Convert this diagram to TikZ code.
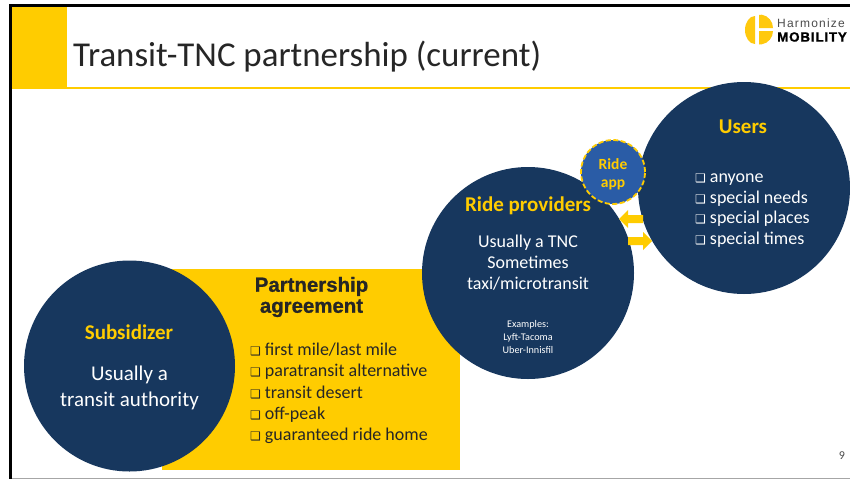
\documentclass[tikz,border=0pt]{standalone}
\usepackage{fontspec}
\setmainfont{Carlito}
\newfontfamily\symfont{DejaVu Sans}
\newfontfamily\headfont{Liberation Sans}
\definecolor{navy}{HTML}{17375E}
\definecolor{gold}{HTML}{FFCC00}
\definecolor{appblue}{HTML}{2A5CA6}
\definecolor{inkc}{HTML}{262626}
\definecolor{logoc}{HTML}{FFC90E}
\newcommand{\bx}{{\symfont\fontsize{12}{10}\selectfont ❑}\hspace{4pt}}
\tikzset{
  x=1pt,y=-1pt,
  disc/.style={circle,fill=navy,inner sep=0pt},
  head/.style={text=gold,font=\fontsize{21}{25}\selectfont\bfseries,align=center},
  body/.style={text=white,font=\fontsize{21}{26}\selectfont,align=center},
  blist/.style={font=\fontsize{18}{21.2}\selectfont,align=left},
  blockarrow/.style={fill=gold}
}
\begin{document}
\begin{tikzpicture}
\useasboundingbox (0,0) rectangle (850,479);
\fill[white] (0,0) rectangle (850,479);
% frame
\fill[black] (9,4) rectangle (850,7);
\fill[black] (9,4) rectangle (11.5,479);
\fill[black!35] (11.5,477.5) rectangle (850,479);
% header
\fill[gold] (11.5,7) rectangle (67,89);
\fill[gold] (67,86.5) rectangle (850,88.5);
\node[anchor=west,inner sep=0pt,font=\fontsize{34.9}{40}\selectfont,text=inkc] (title) at (73,56.5) {Transit-TNC partnership (current)};
% logo
\fill[logoc] (755,44) arc[start angle=90,end angle=270,x radius=10,y radius=14] -- cycle;
\fill[logoc] (759,15) -- (759,28) -- (773,28) arc[start angle=0,end angle=-80,radius=13.5] -- cycle;
\fill[logoc] (759,44.5) -- (759,31) -- (773,31) arc[start angle=0,end angle=80,radius=13.5] -- cycle;
\node[anchor=west,inner sep=0pt,text=black!70,font=\headfont\fontsize{12}{14}\selectfont\addfontfeature{LetterSpace=10}] (logotop) at (777,23) {Harmonize};
\node[anchor=west,inner sep=0pt,text=black,font=\headfont\bfseries\fontsize{13.4}{15}\selectfont\addfontfeature{LetterSpace=6,FakeBold=1}] (logobot) at (777,37) {MOBILITY};
% yellow panel
\fill[gold] (162,269) rectangle (460,470);
% circles
\node[disc,minimum size=211pt] (sub) at (129.5,366) {};
\node[disc,minimum size=212pt] (prov) at (528,273) {};
\node[disc,minimum size=212pt] (users) at (744,188) {};
% arrows
\fill[blockarrow] (619,219) -- (628,210) -- (628,215) -- (643,215) -- (643,223) -- (628,223) -- (628,228) -- cycle;
\fill[blockarrow] (652,241) -- (643,232) -- (643,237) -- (628,237) -- (628,245) -- (643,245) -- (643,250) -- cycle;
% ride app
\node[circle,fill=appblue,draw=gold,line width=1.8pt,dash pattern=on 5pt off 2.5pt,minimum size=64pt,inner sep=0pt] (app) at (613,172) {};
\node[inner sep=0pt,text=gold,align=center,font=\fontsize{15.5}{18.5}\selectfont\bfseries] (applabel) at (613,174.5) {Ride\\app};
% subsidizer
\node[head] (subhead) at (129,332) {Subsidizer};
\node[body] (subbody) at (129.5,388) {Usually a\\transit authority};
% agreement
\node[align=center,inner sep=0pt,text=inkc,font=\headfont\bfseries\fontsize{20.4}{21}\selectfont\addfontfeature{FakeBold=1}] (agr) at (311.5,297) {Partnership\\agreement};
\node[blist,anchor=north west,inner sep=0pt,text=inkc] (agrlist) at (250,343) {\bx first mile/last mile\\\bx paratransit alternative\\\bx transit desert\\\bx off-peak\\\bx guaranteed ride home};
% providers
\node[head] (provhead) at (528,205.5) {Ride providers};
\node[body,font=\fontsize{18}{21}\selectfont] (provbody) at (528,263) {Usually a TNC\\Sometimes\\taxi/microtransit};
\node[body,font=\fontsize{10.2}{13}\selectfont] (provex) at (528,336.5) {Examples:\\Lyft-Tacoma\\Uber-Innisfil};
% users
\node[head] (userhead) at (743,127) {Users};
\node[blist,font=\fontsize{18}{20.7}\selectfont,anchor=north west,inner sep=0pt,text=white] (userlist) at (695,173.5) {\bx anyone\\\bx special needs\\\bx special places\\\bx special times};
\node[inner sep=0pt,text=black!70,font=\fontsize{12}{14}\selectfont] (pagenum) at (842,456) {9};
\end{tikzpicture}
\end{document}
